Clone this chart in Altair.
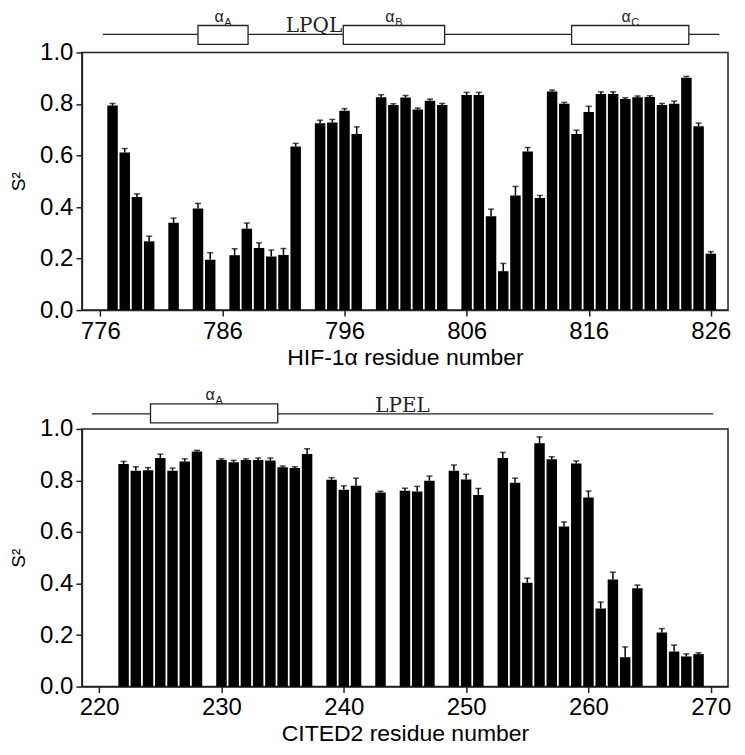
import altair as alt
import pandas as pd

# ---------------- HIF-1alpha panel ----------------
hif_res = [777, 778, 779, 780, 782, 784, 785, 787, 788, 789, 790, 791, 792,
           794, 795, 796, 797, 799, 800, 801, 802, 803, 804,
           806, 807, 808, 809, 810, 811, 812, 813, 814, 815, 816, 817, 818,
           819, 820, 821, 822, 823, 824, 825, 826]
hif_s2 = [0.794, 0.612, 0.439, 0.267, 0.339, 0.394, 0.195, 0.213, 0.316, 0.241,
          0.208, 0.214, 0.635, 0.725, 0.728, 0.774, 0.683, 0.826, 0.796, 0.825,
          0.779, 0.813, 0.796, 0.835, 0.835, 0.364, 0.151, 0.445, 0.616, 0.435,
          0.848, 0.801, 0.683, 0.769, 0.839, 0.839, 0.819, 0.826, 0.827, 0.796,
          0.801, 0.902, 0.714, 0.219]
hif_err = [0.008, 0.015, 0.012, 0.02, 0.018, 0.02, 0.028, 0.025, 0.022, 0.02,
           0.025, 0.025, 0.012, 0.012, 0.012, 0.008, 0.028, 0.01, 0.005, 0.008,
           0.005, 0.006, 0.006, 0.01, 0.01, 0.028, 0.03, 0.035, 0.015, 0.01,
           0.006, 0.005, 0.015, 0.022, 0.008, 0.008, 0.005, 0.005, 0.005, 0.006,
           0.01, 0.005, 0.012, 0.008]
hif_ticks = [776, 786, 796, 806, 816, 826]
hif_domain = [774.9, 827.0]
hif_helix = ["A", "B", "C"]
hif_helix_start = [784.0, 795.9, 814.6]
hif_helix_end = [788.1, 804.2, 824.2]
hif_line = [776.2, 826.7]
hif_motif = ["LPQL"]
hif_motif_x = [793.5]

# ---------------- CITED2 panel ----------------
cit_res = [222, 223, 224, 225, 226, 227, 228, 230, 231, 232, 233, 234, 235, 236,
           237, 239, 240, 241, 243, 245, 246, 247, 249, 250, 251,
           253, 254, 255, 256, 257, 258, 259, 260, 261, 262, 263, 264,
           266, 267, 268, 269]
cit_s2 = [0.864, 0.838, 0.840, 0.887, 0.838, 0.874, 0.912, 0.879, 0.871, 0.879,
          0.879, 0.877, 0.851, 0.848, 0.903, 0.803, 0.764, 0.779, 0.753, 0.760,
          0.757, 0.799, 0.838, 0.804, 0.744, 0.887, 0.791, 0.403, 0.944, 0.882,
          0.621, 0.866, 0.734, 0.303, 0.416, 0.114, 0.382, 0.210, 0.136, 0.117,
          0.126]
cit_err = [0.01, 0.015, 0.01, 0.015, 0.01, 0.01, 0.005, 0.005, 0.007, 0.005,
           0.008, 0.01, 0.005, 0.005, 0.02, 0.008, 0.015, 0.03, 0.005, 0.01,
           0.02, 0.018, 0.022, 0.02, 0.025, 0.022, 0.018, 0.018, 0.025, 0.01,
           0.018, 0.01, 0.025, 0.025, 0.028, 0.04, 0.012, 0.015, 0.025, 0.01,
           0.005]
cit_ticks = [220, 230, 240, 250, 260, 270]
cit_domain = [219.0, 271.0]
cit_helix = ["A"]
cit_helix_start = [224.2]
cit_helix_end = [234.6]
cit_line = [219.4, 270.2]
cit_motif = ["LPEL"]
cit_motif_x = [244.8]

y_ticks = [0.0, 0.2, 0.4, 0.6, 0.8, 1.0]

FONT = "Liberation Sans"
MOTIF_FONT = "DejaVu Serif"


def panel(res, s2, err, xdom, xticks, xtitle, helix, hstart, hend, line, motif,
          motif_x, line_y, box_top, box_bot, alpha_y, sub_y, motif_y, width, height):
    df = pd.DataFrame({"res": res, "s2": s2, "err": err})
    hdf = pd.DataFrame({"name": helix, "start": hstart, "end": hend})
    ldf = pd.DataFrame({"x0": [line[0]], "x1": [line[1]]})
    mdf = pd.DataFrame({"motif": motif, "mx": motif_x})

    xscale = alt.Scale(domain=xdom, nice=False, zero=False)
    yscale = alt.Scale(domain=[0, 1], nice=False)
    xaxis = alt.Axis(values=xticks, format="d", title=xtitle)
    yaxis = alt.Axis(values=y_ticks, format=".1f", title="S²")

    base = alt.Chart(df)
    bars = base.mark_bar(size=10.5, color="black").encode(
        x=alt.X("res:Q", scale=xscale, axis=xaxis),
        y=alt.Y("s2:Q", scale=yscale, axis=yaxis),
    )
    errs = base.transform_calculate(top="datum.s2 + datum.err").mark_rule(
        color="black", strokeWidth=1.5
    ).encode(
        x=alt.X("res:Q", title=xtitle),
        y=alt.Y("s2:Q", title="S²"),
        y2="top:Q",
    )
    caps = base.transform_calculate(top="datum.s2 + datum.err").mark_tick(
        color="black", orient="horizontal", size=6, thickness=1.5
    ).encode(
        x=alt.X("res:Q", title=xtitle),
        y=alt.Y("top:Q", title="S²"),
    )

    sline = alt.Chart(ldf).mark_rule(color="#222", strokeWidth=1.3, clip=False).encode(
        x=alt.X("x0:Q", title=xtitle), x2="x1:Q", y=alt.value(line_y)
    )
    boxes = alt.Chart(hdf).mark_rect(
        fill="white", stroke="#222", strokeWidth=1.3, clip=False
    ).encode(
        x=alt.X("start:Q", title=xtitle), x2="end:Q",
        y=alt.value(box_top), y2=alt.value(box_bot),
    )
    alpha = alt.Chart(hdf).transform_calculate(
        c="(datum.start + datum.end) / 2", a="'α'"
    ).mark_text(
        font=FONT, fontSize=16, dx=-4, baseline="middle", clip=False, color="#222"
    ).encode(x=alt.X("c:Q", title=xtitle), y=alt.value(alpha_y), text="a:N")
    sub = alt.Chart(hdf).transform_calculate(
        c="(datum.start + datum.end) / 2"
    ).mark_text(
        font=FONT, fontSize=11, dx=5, baseline="middle", clip=False, color="#222"
    ).encode(x=alt.X("c:Q", title=xtitle), y=alt.value(sub_y), text="name:N")
    mot = alt.Chart(mdf).mark_text(
        font=MOTIF_FONT, fontSize=20, baseline="alphabetic", clip=False, color="#222"
    ).encode(x=alt.X("mx:Q", title=xtitle), y=alt.value(motif_y), text="motif:N")

    return alt.layer(bars, errs, caps, sline, boxes, alpha, sub, mot).properties(
        width=width, height=height
    )


top = panel(hif_res, hif_s2, hif_err, hif_domain, hif_ticks, "HIF-1α residue number",
            hif_helix, hif_helix_start, hif_helix_end, hif_line, hif_motif, hif_motif_x,
            line_y=-18, box_top=-27, box_bot=-8, alpha_y=-35, sub_y=-29, motif_y=-20,
            width=647, height=258)
bottom = panel(cit_res, cit_s2, cit_err, cit_domain, cit_ticks, "CITED2 residue number",
               cit_helix, cit_helix_start, cit_helix_end, cit_line, cit_motif, cit_motif_x,
               line_y=-15, box_top=-25, box_bot=-6, alpha_y=-34, sub_y=-28, motif_y=-17,
               width=647, height=258)

chart = alt.vconcat(top, bottom, spacing=119).properties(
    bounds="flush",
    padding={"left": 0, "top": 0, "right": 5, "bottom": 5},
).configure_view(
    stroke="#222", strokeWidth=1.5
).configure_axis(
    grid=False,
    domainColor="#222",
    domainWidth=1.5,
    tickColor="#222",
    tickWidth=1.5,
    tickSize=6,
    labelFont=FONT,
    labelFontSize=24,
    labelColor="black",
    labelPadding=3,
    titleFont=FONT,
    titleFontSize=23,
    titleFontWeight="normal",
    titleColor="black",
).configure_axisX(
    titlePadding=3,
).configure_axisY(
    titleFontSize=19,
    titlePadding=11,
)

chart.save("out.html", embed_options={"renderer": "svg", "actions": False})
